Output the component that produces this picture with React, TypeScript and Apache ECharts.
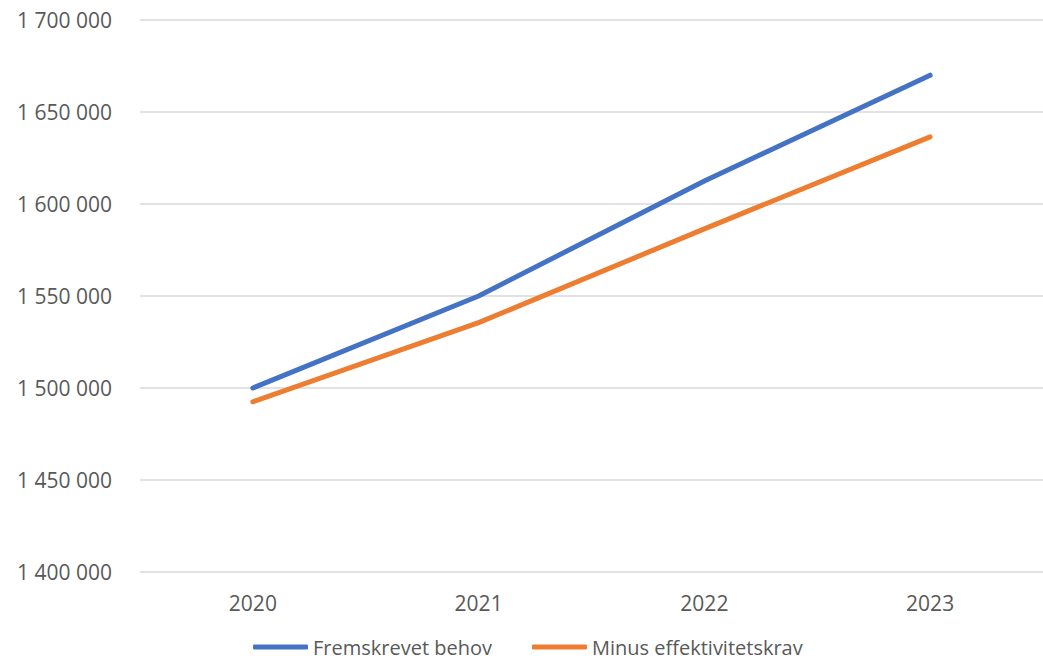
import React, { useEffect, useRef } from "react";
import * as echarts from "echarts";

const years = ["2020", "2021", "2022", "2023"];
const fremskrevetBehov = [1500000, 1550000, 1612500, 1670000];
const minusEffektivitetskrav = [1492500, 1535500, 1586500, 1636500];
const seriesNames = ["Fremskrevet behov", "Minus effektivitetskrav"];

const FONT = "'Open Sans', 'Noto Sans', sans-serif";
const TXT = "#595959";

function fmt(v: number) {
  return String(Math.round(v)).replace(/\B(?=(\d{3})+(?!\d))/g, " ");
}

export default function App() {
  const ref = useRef<HTMLDivElement>(null);
  useEffect(() => {
    if (!ref.current) return;
    const chart = echarts.init(ref.current, undefined, { renderer: "svg" });
    chart.setOption({
      animation: false,
      backgroundColor: "#ffffff",
      textStyle: { fontFamily: FONT },
      grid: { left: 140, right: -6, top: 20, bottom: 95, containLabel: false },
      legend: {
        data: seriesNames,
        left: 253,
        top: 637,
        padding: 0,
        icon: "roundRect",
        itemWidth: 55,
        itemHeight: 5,
        itemGap: 40,
        textStyle: { color: TXT, fontSize: 20, lineHeight: 20, fontFamily: FONT },
      },
      xAxis: {
        type: "category",
        data: years,
        boundaryGap: true,
        axisLine: { show: false },
        axisTick: { show: false },
        axisLabel: { color: TXT, fontSize: 21, fontFamily: FONT, margin: 20 },
      },
      yAxis: {
        type: "value",
        min: 1400000,
        max: 1700000,
        interval: 50000,
        axisLine: { show: false },
        axisTick: { show: false },
        splitLine: { lineStyle: { color: "#d9d9d9", width: 1.5 } },
        axisLabel: {
          color: TXT,
          fontSize: 21,
          fontFamily: FONT,
          margin: 28,
          formatter: (v: number) => fmt(v),
        },
      },
      series: [
        {
          name: seriesNames[0],
          type: "line",
          data: fremskrevetBehov,
          showSymbol: false,
          symbol: "none",
          lineStyle: { color: "#4472C4", width: 5, cap: "round", join: "round" },
          itemStyle: { color: "#4472C4" },
        },
        {
          name: seriesNames[1],
          type: "line",
          data: minusEffektivitetskrav,
          showSymbol: false,
          symbol: "none",
          lineStyle: { color: "#ED7D31", width: 5, cap: "round", join: "round" },
          itemStyle: { color: "#ED7D31" },
        },
      ],
    });
    return () => chart.dispose();
  }, []);
  return (
    <div
      ref={ref}
      style={{ position: "absolute", left: 0, top: 0, width: 1043, height: 667, overflow: "hidden" }}
    />
  );
}
